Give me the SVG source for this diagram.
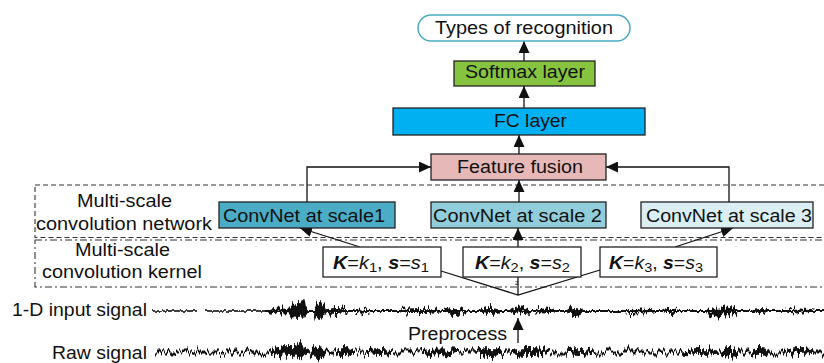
<svg xmlns="http://www.w3.org/2000/svg" width="824" height="363" viewBox="0 0 824 363">
<style>
text{font-family:"Liberation Sans",Arial,sans-serif;font-size:17.5px;fill:#111}
.box{stroke:#222;stroke-width:1.3}
.conn{fill:none;stroke:#111;stroke-width:1.3}
.bi{font-weight:bold;font-style:italic}
.it{font-style:italic}
.sub{font-size:13px}
.sig{fill:#111}
</style>
<defs>
<marker id="ah" markerUnits="userSpaceOnUse" markerWidth="12" markerHeight="11" refX="12" refY="5.5" orient="auto">
<path d="M0,0 L12,5.5 L0,11 z" fill="#111"/>
</marker>
<filter id="jitS" filterUnits="userSpaceOnUse" x="140" y="285" width="700" height="80" color-interpolation-filters="sRGB">
<feTurbulence type="fractalNoise" baseFrequency="0.45 0.03" numOctaves="2" seed="3" result="n"/>
<feColorMatrix in="n" type="matrix" values="0 0 0 0 0.5  0 1 0 0 0  0 0 1 0 0  0 0 0 0 1" result="m"/>
<feDisplacementMap in="SourceGraphic" in2="m" scale="4" xChannelSelector="R" yChannelSelector="G"/>
</filter>
<filter id="jitL" filterUnits="userSpaceOnUse" x="140" y="285" width="700" height="80" color-interpolation-filters="sRGB">
<feTurbulence type="fractalNoise" baseFrequency="0.5 0.03" numOctaves="2" seed="11" result="n"/>
<feColorMatrix in="n" type="matrix" values="0 0 0 0 0.5  0 1 0 0 0  0 0 1 0 0  0 0 0 0 1" result="m"/>
<feDisplacementMap in="SourceGraphic" in2="m" scale="16" xChannelSelector="R" yChannelSelector="G"/>
</filter>
</defs>

<g id="regions" fill="none" stroke="#333" stroke-width="1.1">
<rect id="network-region" x="35" y="185" width="795" height="52.5" stroke-dasharray="5,3"/>
<rect id="kernel-region" x="35" y="240" width="795" height="47" stroke-dasharray="7,3,2,3"/>
</g>

<g id="connectors" class="conn">
<path d="M524,61 V41" marker-end="url(#ah)"/>
<path d="M524,108 V86" marker-end="url(#ah)"/>
<path d="M519,154 V135" marker-end="url(#ah)"/>
<path d="M519,202 V180" marker-end="url(#ah)"/>
<path d="M307,202 V167 H431" marker-end="url(#ah)"/>
<path d="M729,202 V167 H606" marker-end="url(#ah)"/>
<path d="M360,247 L300,228" marker-end="url(#ah)"/>
<path d="M518,295 V228" marker-end="url(#ah)"/>
<path d="M675,247 L733,228" marker-end="url(#ah)"/>
<path d="M441,271 L518,295 L600,270"/>
<path d="M518,343 V318" marker-end="url(#ah)"/>
</g>

<g id="types">
<rect x="418" y="15" width="212" height="26" rx="13" fill="#fff" stroke="#4bacc6" stroke-width="1.5"/>
<text x="435" y="33.5" textLength="178" lengthAdjust="spacingAndGlyphs">Types of recognition</text>
</g>
<g id="softmax">
<rect class="box" x="454" y="61" width="141" height="25" fill="#86c440"/>
<text x="465" y="77.5" textLength="120" lengthAdjust="spacingAndGlyphs">Softmax layer</text>
</g>
<g id="fc">
<rect class="box" x="393" y="108" width="252" height="27" fill="#00b0f0"/>
<text x="494" y="126.5" textLength="73" lengthAdjust="spacingAndGlyphs">FC layer</text>
</g>
<g id="fusion">
<rect class="box" x="431" y="154" width="175" height="26" fill="#e6b9b8"/>
<text x="457" y="172.5" textLength="126" lengthAdjust="spacingAndGlyphs">Feature fusion</text>
</g>
<g id="convnet1">
<rect class="box" x="219" y="202" width="176" height="26" fill="#4bacc6"/>
<text x="223" y="221.5" textLength="162" lengthAdjust="spacingAndGlyphs">ConvNet at scale1</text>
</g>
<g id="convnet2">
<rect class="box" x="431" y="202" width="175" height="26" fill="#92cddc"/>
<text x="433" y="221.5" textLength="169" lengthAdjust="spacingAndGlyphs">ConvNet at scale 2</text>
</g>
<g id="convnet3">
<rect class="box" x="641" y="202" width="172" height="26" fill="#daeef3"/>
<text x="646" y="221.5" textLength="166" lengthAdjust="spacingAndGlyphs">ConvNet at scale 3</text>
</g>
<g id="k1">
<rect class="box" x="323" y="247" width="118" height="30" fill="#fff"/>
<text x="333" y="269" textLength="96" lengthAdjust="spacingAndGlyphs"><tspan class="bi">K</tspan>=<tspan class="it">k</tspan><tspan class="sub" dy="3">1</tspan><tspan dy="-3">, </tspan><tspan class="bi">s</tspan>=<tspan class="it">s</tspan><tspan class="sub" dy="3">1</tspan></text>
</g>
<g id="k2">
<rect class="box" x="463" y="247" width="118" height="30" fill="#fff"/>
<text x="475" y="269" textLength="95" lengthAdjust="spacingAndGlyphs"><tspan class="bi">K</tspan>=<tspan class="it">k</tspan><tspan class="sub" dy="3">2</tspan><tspan dy="-3">, </tspan><tspan class="bi">s</tspan>=<tspan class="it">s</tspan><tspan class="sub" dy="3">2</tspan></text>
</g>
<g id="k3">
<rect class="box" x="600" y="247" width="117" height="30" fill="#fff"/>
<text x="609" y="269" textLength="94" lengthAdjust="spacingAndGlyphs"><tspan class="bi">K</tspan>=<tspan class="it">k</tspan><tspan class="sub" dy="3">3</tspan><tspan dy="-3">, </tspan><tspan class="bi">s</tspan>=<tspan class="it">s</tspan><tspan class="sub" dy="3">3</tspan></text>
</g>
<text x="515" y="285" style="font-size:6px">2</text>

<g id="labels">
<text x="77" y="207" textLength="95" lengthAdjust="spacingAndGlyphs">Multi-scale</text>
<text x="36" y="230" textLength="176" lengthAdjust="spacingAndGlyphs">convolution network</text>
<text x="75" y="256" textLength="95" lengthAdjust="spacingAndGlyphs">Multi-scale</text>
<text x="42" y="277.5" textLength="160" lengthAdjust="spacingAndGlyphs">convolution kernel</text>
<text x="12" y="316" textLength="135" lengthAdjust="spacingAndGlyphs">1-D input signal</text>
<text x="408" y="340" textLength="99" lengthAdjust="spacingAndGlyphs">Preprocess</text>
<text x="52" y="358.5" textLength="95" lengthAdjust="spacingAndGlyphs">Raw signal</text>
</g>

<g id="input-signal" class="sig">
<g filter="url(#jitS)">
<rect x="152" y="310.2" width="45" height="1.6"/>
<rect x="205" y="310.2" width="60" height="1.6"/>
<rect x="265" y="310" width="560" height="2"/>
</g>
<g filter="url(#jitL)">
<ellipse cx="282" cy="311" rx="14" ry="2.5"/>
<ellipse cx="298" cy="311" rx="10" ry="7"/>
<ellipse cx="303" cy="310" rx="3" ry="11"/>
<ellipse cx="320" cy="311" rx="6" ry="9"/>
<ellipse cx="336" cy="311" rx="12" ry="3"/>
<ellipse cx="362" cy="311" rx="8" ry="1.5"/>
<ellipse cx="420" cy="311" rx="20" ry="2"/>
<ellipse cx="455" cy="311" rx="12" ry="3"/>
<ellipse cx="490" cy="311" rx="10" ry="3"/>
<ellipse cx="520" cy="311" rx="10" ry="3.5"/>
<ellipse cx="545" cy="311" rx="10" ry="2.5"/>
<ellipse cx="575" cy="311" rx="8" ry="4"/>
<ellipse cx="640" cy="311" rx="15" ry="1.5"/>
<ellipse cx="670" cy="311" rx="8" ry="2"/>
<ellipse cx="722" cy="311" rx="16" ry="4.5"/>
<ellipse cx="760" cy="311" rx="8" ry="2"/>
<ellipse cx="800" cy="311" rx="15" ry="1.5"/>
</g>
</g>

<g id="raw-signal" class="sig" filter="url(#jitL)">
<rect x="155" y="350.5" width="669" height="3"/>
<ellipse cx="290" cy="352" rx="20" ry="5"/>
<ellipse cx="300" cy="351" rx="4" ry="9"/>
<ellipse cx="318" cy="352" rx="8" ry="6"/>
<ellipse cx="345" cy="352" rx="10" ry="4"/>
<ellipse cx="380" cy="352" rx="15" ry="3"/>
<ellipse cx="440" cy="352" rx="20" ry="3.5"/>
<ellipse cx="490" cy="352" rx="15" ry="4"/>
<ellipse cx="530" cy="352" rx="20" ry="4"/>
<ellipse cx="580" cy="352" rx="15" ry="3"/>
<ellipse cx="700" cy="352" rx="20" ry="3"/>
<ellipse cx="730" cy="352" rx="10" ry="5"/>
<ellipse cx="760" cy="352" rx="10" ry="4"/>
<ellipse cx="800" cy="352" rx="15" ry="3"/>
</g>
</svg>
